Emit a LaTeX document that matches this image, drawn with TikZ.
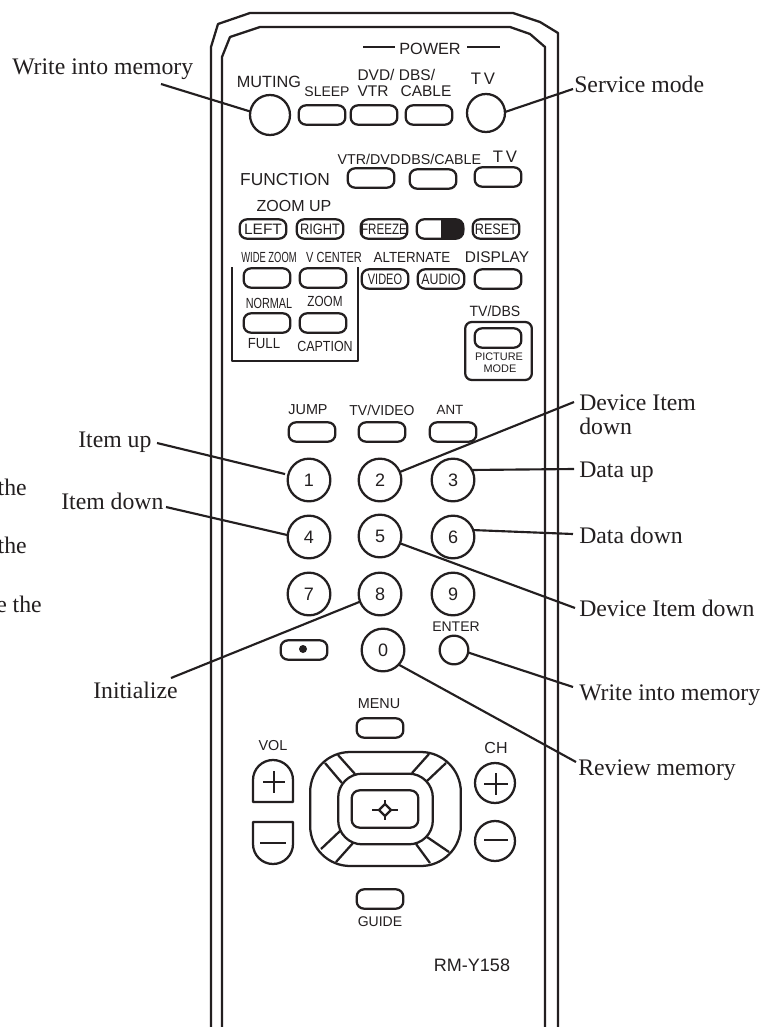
\documentclass[tikz,border=0pt]{standalone}
\usepackage{fontspec}
\setmainfont{Liberation Serif}
\setsansfont{Liberation Sans}
\newcommand{\sq}[2]{\scalebox{#1}[1]{#2}}
\definecolor{ink}{HTML}{231F20}
\tikzset{
  pill/.style={draw=ink, line width=1.7pt, rounded corners=5.5pt, minimum width=35pt, minimum height=14.5pt, inner sep=0pt, outer sep=0pt, text=ink, font=\fontsize{11.3}{12}\sffamily},
  numkey/.style={draw=ink, circle, line width=1.7pt, minimum size=32pt, inner sep=0pt, outer sep=0pt, text=ink, font=\fontsize{13.5}{14}\sffamily},
  bigkey/.style={draw=ink, circle, line width=1.7pt, minimum size=#1, inner sep=0pt, outer sep=0pt},
  keytxt/.style={text=ink, inner sep=0pt, font=\fontsize{#1}{#1}\sffamily},
  keytxt/.default=10.5,
  call/.style={text=ink, inner sep=0pt, anchor=base west, align=left, font=\fontsize{17.8}{18}\rmfamily},
  leader/.style={draw=ink, line width=1.6pt},
  body/.style={draw=ink, line width=1.7pt, line join=round}
}
\begin{document}
\begin{tikzpicture}[x=0.75pt, y=-0.75pt]
\useasboundingbox (0,0) rectangle (769,1027);
\fill[white] (0,0) rectangle (769,1027);
\draw[body] (211,1027) -- (211,47) -- (218,24) -- (250,13) -- (513,13) -- (540,22) -- (558,33) -- (558,1027);
\draw[body] (222,1027) -- (222,57) -- (230,37) -- (260,27) -- (510,27) -- (530,34) -- (545,47) -- (545,1027);
\node[keytxt=12.2] (power) at (430,49) {POWER};
\draw[leader] (363,47) -- (395,47);
\draw[leader] (467,47) -- (500,47);
\node[keytxt=12.2] (mutingtxt) at (269,82) {MUTING};
\node[keytxt] (sleeptxt) at (327,92) {SLEEP};
\node[keytxt=11.6] (dvdtxt) at (376,75) {DVD/};
\node[keytxt=11.6] (vtrtxt) at (373,91) {VTR};
\node[keytxt=11.6] (dbstxt) at (417,75) {DBS/};
\node[keytxt=11.6] (cabletxt) at (426,91) {CABLE};
\node[keytxt=12.5] (tvtxt) at (483,79) {T\,V};
\node[bigkey=30pt] (muting) at (270,115) {};
\node[pill] (sleep) at (322,115) {};
\node[pill] (dvd) at (374,115) {};
\node[pill] (dbs) at (429,115) {};
\node[bigkey=28.5pt] (tv) at (486,113) {};
\node[keytxt=10.7] (vtrdvdtxt) at (369,159) {VTR/DVD};
\node[keytxt=10.7] (dbscabletxt) at (441,159) {DBS/CABLE};
\node[keytxt=12.5] (tvfunctxt) at (505,157) {T\,V};
\node[keytxt=13] (functiontxt) at (285,180) {FUNCTION};
\node[pill] (fvtr) at (371,178) {};
\node[pill] (fdbs) at (433,179) {};
\node[pill] (ftv) at (498,177) {};
\node[keytxt=12] (zoomuptxt) at (294,206) {ZOOM UP};
\node[pill] (left) at (263,229) {\sq{1.03}{LEFT}};
\node[pill] (right) at (320,229) {\sq{.85}{RIGHT}};
\node[pill] (freeze) at (384,229) {\sq{.77}{FREEZE}};
\node[pill] (switch) at (440,229) {};
\fill[ink] (441,219.5) -- (455,219.5) arc[start angle=-90, end angle=90, radius=9.5] -- (441,238.5) -- cycle;
\node[pill] (reset) at (496,229) {\sq{.84}{RESET}};
\node[keytxt=11] (widetxt) at (269,257) {\sq{.64}{WIDE ZOOM}};
\node[keytxt=11] (vcentertxt) at (334,257) {\sq{.75}{V CENTER}};
\node[keytxt=11] (alternatetxt) at (412,257) {\sq{.91}{ALTERNATE}};
\node[keytxt=11.6] (displaytxt) at (497,257) {DISPLAY};
\node[pill] (wide) at (267,278) {};
\node[pill] (vcenter) at (323,278) {};
\node[pill] (video) at (385,279) {\sq{.73}{VIDEO}};
\node[pill] (audio) at (441,279) {\sq{.82}{AUDIO}};
\node[pill] (display) at (498,279) {};
\node[keytxt=11] (normaltxt) at (269,303) {\sq{.74}{NORMAL}};
\node[keytxt=11] (zoomtxt) at (325,301) {\sq{.8}{ZOOM}};
\node[pill] (normal) at (267,323) {};
\node[pill] (zoom) at (323,323) {};
\node[keytxt=11] (fulltxt) at (264,344) {\sq{.9}{FULL}};
\node[keytxt=11] (captiontxt) at (325,346) {\sq{.85}{CAPTION}};
\draw[body] (232,267) -- (232,361) -- (358,361) -- (358,267);
\node[keytxt=11.2] (tvdbstxt) at (495,311) {\sq{.94}{TV/DBS}};
\node[pill, minimum width=50pt, minimum height=43.5pt, rounded corners=5pt] (picbox) at (498.5,351) {};
\node[pill] (picture) at (498,338) {};
\node[keytxt=8.2] (picturetxt) at (499,357) {PICTURE};
\node[keytxt=8.2] (modetxt) at (500,369) {MODE};
\node[keytxt=10.8] (jumptxt) at (308,410) {JUMP};
\node[keytxt=10.8] (tvvideotxt) at (382,410) {\sq{.97}{TV/VIDEO}};
\node[keytxt=10] (anttxt) at (450,410) {ANT};
\node[pill] (jump) at (312,432) {};
\node[pill] (tvvideo) at (382,432) {};
\node[pill] (ant) at (453,432) {};
\node[numkey] (n1) at (309,480) {1};
\node[numkey] (n2) at (380,480) {2};
\node[numkey] (n3) at (453,480) {3};
\node[numkey] (n4) at (309,537) {4};
\node[numkey] (n5) at (380,536) {5};
\node[numkey] (n6) at (453,537) {6};
\node[numkey] (n7) at (309,594) {7};
\node[numkey] (n8) at (380,594) {8};
\node[numkey] (n9) at (453,594) {9};
\node[numkey] (n0) at (383,650) {0};
\node[pill] (dot) at (304,650) {};
\fill[ink] (303,649) circle[radius=4];
\node[keytxt] (entertxt) at (456,627) {ENTER};
\node[bigkey=21.5pt] (enter) at (454,650) {};
\node[keytxt=10.8] (menutxt) at (379,704) {MENU};
\node[pill] (menu) at (380,728) {};
\node[keytxt=10.8] (voltxt) at (273,746) {VOL};
\draw[body] (253,802) -- (253,780) arc[start angle=180, end angle=360, radius=20] -- (293,802) -- cycle;
\draw[body] (263,782) -- (285,782);
\draw[body] (274,771) -- (274,793);
\draw[body] (253,822) -- (253,844) arc[start angle=180, end angle=0, radius=20] -- (293,822) -- cycle;
\draw[body] (260,843) -- (286,843);
\node[keytxt=12] (chtxt) at (496,748) {CH};
\node[bigkey=30pt] (chup) at (495,783) {};
\draw[body] (484,784) -- (508,784);
\draw[body] (496,773) -- (496,795);
\node[bigkey=30pt] (chdown) at (495,841) {};
\draw[body] (484,840) -- (508,840);
\node[pill, minimum width=113pt, minimum height=85.5pt, rounded corners=30pt] (pad) at (385.5,809) {};
\node[pill, minimum width=71pt, minimum height=53pt, rounded corners=18pt] (padmid) at (385.5,809) {};
\node[pill, minimum width=50pt, minimum height=28pt, rounded corners=6pt] (padok) at (385,809) {};
\draw[body] (325,763) -- (342,783);
\draw[body] (338,755) -- (355,774);
\draw[body] (412,773) -- (429,754);
\draw[body] (427,781) -- (446,763);
\draw[body] (321,849) -- (340,831);
\draw[body] (336,862) -- (353,843);
\draw[body] (416,844) -- (430,863);
\draw[body] (427,837) -- (449,852);
\draw[body] (385,804) -- (391,810) -- (385,816) -- (379,810) -- cycle;
\draw[body] (372,810) -- (379,810);
\draw[body] (391,810) -- (398,810);
\draw[body] (385,800) -- (385,804);
\draw[body] (385,816) -- (385,820);
\node[pill] (guide) at (380,899) {};
\node[keytxt] (guidetxt) at (380,922) {GUIDE};
\node[keytxt=13.5] (modeltxt) at (472,965) {RM-Y158};
\node[call] (lwrite) at (12,75) {Write into memory};
\node[call] (lservice) at (574,93) {Service mode};
\node[call] (litemup) at (78,447) {Item up};
\node[call] (litemdown) at (61,509) {Item down};
\node[call] (linit) at (93,698) {Initialize};
\node[call, anchor=base east] (lthea) at (27,495) {the};
\node[call, anchor=base east] (ltheb) at (27,553) {the};
\node[call, anchor=base east] (lthec) at (42,612) {e the};
\node[call] (ldevup) at (579,410) {Device Item};
\node[call] (ldevupb) at (579,434) {down};
\node[call] (ldataup) at (579,477) {Data up};
\node[call] (ldatadown) at (579,543) {Data down};
\node[call] (ldevdown) at (579,616) {Device Item down};
\node[call] (lwriteb) at (579,700) {Write into memory};
\node[call] (lreview) at (578,775) {Review memory};
\coordinate (cwrite) at (161,84);
\coordinate (cservice) at (573,89);
\coordinate (citemup) at (157,443);
\coordinate (citemdown) at (166,507);
\coordinate (cinit) at (171,678);
\coordinate (cdevup) at (574,402);
\coordinate (cdataup) at (574,469);
\coordinate (cdatadown) at (573,534);
\coordinate (cdevdown) at (575,608);
\coordinate (cwriteb) at (573,687);
\coordinate (creview) at (576,762);
\draw[leader] (cwrite) -- (muting.170);
\draw[leader] (cservice) -- (tv.3);
\draw[leader, shorten >=2.5pt] (citemup) -- (n1.166);
\draw[leader] (citemdown) -- (n4.175);
\draw[leader] (cinit) -- (n8.201);
\draw[leader] (cdevup) -- (n2.22);
\draw[leader] (cdataup) -- (n3.28);
\draw[leader] (cdatadown) -- (n6.19);
\draw[leader] (cdevdown) -- (n5.-20);
\draw[leader] (cwriteb) -- (enter.-10);
\draw[leader] (creview) -- (n0.-43);
\end{tikzpicture}
\end{document}
